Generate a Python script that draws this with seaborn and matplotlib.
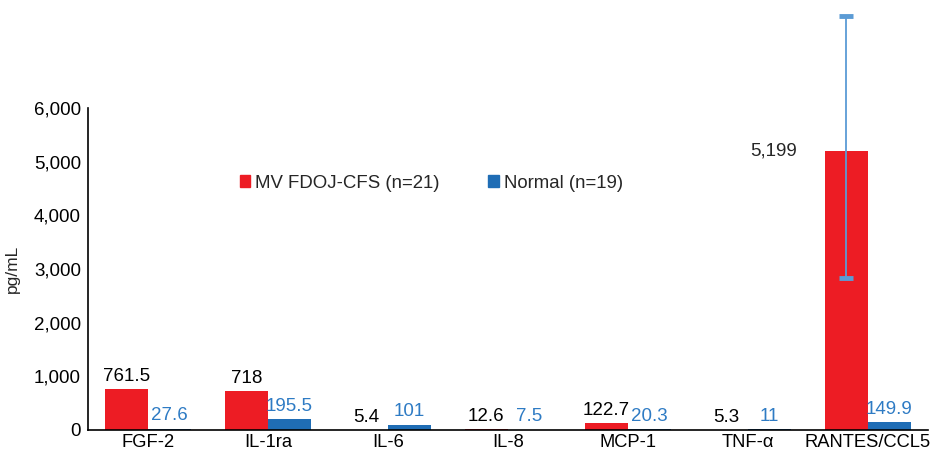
import pandas as pd
import matplotlib.pyplot as plt
import matplotlib.ticker as mticker
import seaborn as sns

# Dane
cytokines = ['FGF-2', 'IL-1ra', 'IL-6', 'IL-8', 'MCP-1', 'TNF-α', 'RANTES/CCL5']
groups = ['MV FDOJ-CFS (n=21)', 'Normal (n=19)']
fdoj = [761.5, 718, 5.4, 12.6, 122.7, 5.3, 5199]
normal = [27.6, 195.5, 101, 7.5, 20.3, 11, 149.9]
# errorbar dla RANTES (dolny i górny koniec)
rantes_err_low = 2830
rantes_err_high = 7720

red = '#ed1c24'
blue = '#1f6db5'
label_blue = '#2e7bc4'

df = pd.DataFrame({
    'cytokine': cytokines * 2,
    'value': fdoj + normal,
    'group': [groups[0]] * len(cytokines) + [groups[1]] * len(cytokines),
})

sns.set_style('white')
plt.rcParams['font.family'] = ['Liberation Sans', 'DejaVu Sans']

fig = plt.figure(figsize=(9.3, 4.57), dpi=100)
ax = fig.add_axes([0.0946, 0.0591, 0.903, 0.7046])

sns.barplot(data=df, x='cytokine', y='value', hue='group', palette=[red, blue],
            width=0.72, gap=0, errorbar=None, saturation=1, linewidth=0, ax=ax)

ax.set_xlim(-0.5, 6.5)
ax.set_ylim(0, 6000)
ax.yaxis.set_major_locator(mticker.MultipleLocator(1000))
ax.yaxis.set_major_formatter(mticker.FuncFormatter(lambda v, p: f'{v:,.0f}'))
ax.tick_params(axis='both', length=0, colors='black')
ax.tick_params(axis='y', pad=5, labelsize=13.5)
ax.tick_params(axis='x', pad=3, labelsize=13.2)
ax.set_xlabel('')
ax.set_ylabel('pg/mL', fontsize=12.5, labelpad=10)

for s in ['top', 'right']:
    ax.spines[s].set_visible(False)
for s in ['left', 'bottom']:
    ax.spines[s].set_color('black')
    ax.spines[s].set_linewidth(1.2)

# Etykiety wartości
red_labels = [f'{v:g}' for v in fdoj]
red_labels[-1] = ''
ax.bar_label(ax.containers[0], labels=red_labels, padding=3, fontsize=13.5, color='black')
ax.bar_label(ax.containers[1], labels=[f'{v:g}' for v in normal], padding=3,
             fontsize=13.5, color=label_blue)
ax.text(5.41, fdoj[-1], f'{fdoj[-1]:,.0f}', ha='right', va='center', fontsize=13.5)

# Errorbar dla RANTES
x_r = 6 - 0.18
ax.errorbar([x_r], [fdoj[-1]],
            yerr=[[fdoj[-1] - rantes_err_low], [rantes_err_high - fdoj[-1]]],
            fmt='none', ecolor='#5b9bd5', elinewidth=1.3, capsize=5, capthick=3.5,
            clip_on=False, zorder=5)

# Legenda
handles = [plt.Rectangle((0, 0), 1, 1, color=red), plt.Rectangle((0, 0), 1, 1, color=blue)]
ax.legend(handles, groups, loc='center', bbox_to_anchor=(0.409, 0.767), ncol=2,
          frameon=False, fontsize=13.4, handlelength=0.55, handleheight=0.55,
          handletextpad=0.3, columnspacing=2.6)

plt.savefig('out.png')
